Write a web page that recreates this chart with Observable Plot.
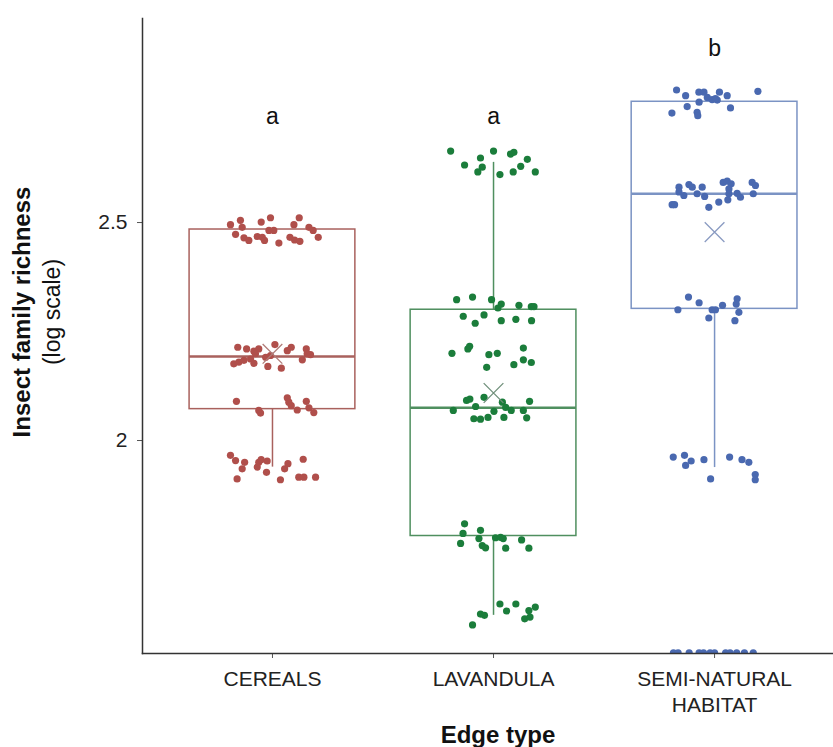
<!DOCTYPE html>
<html>
<head>
<meta charset="utf-8">
<script src="https://cdn.jsdelivr.net/npm/d3@7"></script>
<script src="https://cdn.jsdelivr.net/npm/@observablehq/plot@0.6"></script>
<style>
  html, body { margin: 0; padding: 0; background: #fff; }
  #chart svg { display: block; }
</style>
</head>
<body>
<div id="chart"></div>
<script>
// ---- Data ----
const categories = ["CEREALS", "LAVANDULA", "SEMI-NATURAL HABITAT"];
const tickLabels = ["CEREALS", "LAVANDULA", "SEMI-NATURAL\nHABITAT"];
const yTicks = [2, 2.5];

// box summaries (log scale values)
const q1 = [2.072, 1.781, 2.302];
const median = [2.193, 2.075, 2.566];
const q3 = [2.484, 2.300, 2.777];
const whiskerLow = [1.939, 1.599, 1.938];
const whiskerHigh = [2.484, 2.638, 2.777];
const means = [2.199, 2.109, 2.478];
const groupLetters = ["a", "a", "b"];
const letterValues = [2.743, 2.743, 2.898];

// jittered observations: [jitter (category units), value]
const cerealsPoints = [
  [-0.19,2.495],[-0.145,2.505],[-0.137,2.489],[-0.167,2.473],[-0.129,2.465],[-0.107,2.459],
  [-0.051,2.501],[-0.009,2.511],[-0.069,2.468],[-0.046,2.466],[-0.036,2.459],[-0.016,2.482],
  [0.006,2.482],[0.029,2.453],[0.097,2.495],[0.121,2.511],[0.079,2.466],[0.100,2.460],
  [0.124,2.457],[0.165,2.489],[0.184,2.482],[0.207,2.466],
  [-0.157,2.214],[-0.117,2.210],[-0.084,2.205],[-0.062,2.210],[-0.077,2.199],[-0.175,2.176],
  [-0.152,2.180],[-0.129,2.184],[-0.099,2.187],[-0.084,2.177],[-0.031,2.191],[-0.021,2.170],
  [0.011,2.220],[-0.009,2.195],[0.040,2.166],[0.067,2.206],[0.085,2.214],[0.153,2.210],
  [0.157,2.199],[0.172,2.197],[0.135,2.185],
  [-0.163,2.090],[-0.062,2.069],[-0.054,2.063],[0.067,2.098],[0.074,2.088],[0.085,2.080],
  [0.112,2.070],[0.153,2.090],[0.165,2.075],[0.187,2.064],
  [-0.19,1.966],[-0.167,1.954],[-0.126,1.950],[-0.137,1.935],[-0.160,1.912],[-0.062,1.950],
  [-0.051,1.956],[-0.024,1.953],[-0.069,1.939],[-0.027,1.927],[0.036,1.910],[0.055,1.935],
  [0.070,1.947],[0.139,1.957],[0.119,1.916],[0.142,1.916],[0.195,1.916]
];
const lavandulaPoints = [
  [-0.194,2.664],[-0.131,2.632],[-0.059,2.648],[-0.051,2.627],[-0.071,2.616],[0.0,2.664],
  [0.029,2.610],[0.077,2.657],[0.092,2.661],[0.089,2.616],[0.123,2.629],[0.153,2.645],[0.189,2.616],
  [-0.167,2.323],[-0.095,2.329],[-0.009,2.323],[0.035,2.313],[0.020,2.304],[0.115,2.310],
  [0.171,2.307],[0.183,2.307],[-0.137,2.285],[-0.083,2.269],[-0.043,2.288],[0.035,2.275],
  [0.101,2.278],[0.172,2.275],
  [-0.188,2.200],[-0.116,2.210],[-0.108,2.216],[-0.021,2.197],[0.017,2.200],[-0.031,2.168],
  [0.092,2.174],[0.135,2.212],[0.135,2.185],[0.171,2.179],
  [-0.182,2.069],[-0.122,2.092],[-0.107,2.095],[-0.081,2.078],[-0.043,2.099],[0.002,2.067],
  [0.040,2.088],[0.055,2.076],[0.080,2.069],[0.135,2.069],[0.163,2.090],[0.150,2.052],
  [-0.089,2.050],[-0.059,2.049],[-0.025,2.053],[0.047,2.053],
  [-0.131,1.809],[-0.138,1.787],[-0.149,1.764],[-0.059,1.794],[-0.066,1.775],[-0.051,1.759],
  [-0.036,1.754],[0.009,1.777],[0.032,1.778],[0.044,1.775],[0.055,1.753],[0.127,1.772],[0.160,1.753],
  [0.029,1.625],[0.101,1.625],[0.059,1.609],[-0.059,1.602],[-0.041,1.599],[-0.095,1.577],
  [0.160,1.610],[0.189,1.618],[0.141,1.591],[0.165,1.595]
];
const semiNaturalPoints = [
  [-0.172,2.804],[-0.131,2.791],[-0.071,2.799],[-0.048,2.799],[-0.033,2.787],[-0.011,2.782],
  [0.012,2.781],[0.022,2.799],[0.057,2.791],[0.196,2.801],[-0.070,2.776],[-0.124,2.766],
  [-0.193,2.751],[-0.079,2.753],[-0.076,2.745],[0.072,2.763],[0.004,2.784],
  [-0.161,2.581],[-0.116,2.587],[-0.101,2.581],[-0.056,2.581],[-0.161,2.570],[-0.139,2.562],
  [-0.079,2.566],[-0.045,2.560],[-0.192,2.541],[-0.181,2.541],[-0.026,2.535],[0.019,2.547],
  [0.039,2.592],[0.057,2.595],[0.075,2.589],[0.065,2.577],[0.060,2.552],[0.065,2.566],
  [0.102,2.567],[0.117,2.558],[0.170,2.592],[0.185,2.585],[0.175,2.566],
  [-0.118,2.329],[-0.070,2.316],[-0.166,2.300],[-0.011,2.300],[0.004,2.300],[0.036,2.310],
  [-0.026,2.281],[0.102,2.325],[0.098,2.313],[0.110,2.294],[0.092,2.275],
  [-0.187,1.962],[-0.136,1.966],[-0.131,1.943],[-0.106,1.953],[-0.048,1.956],[-0.018,1.912],
  [0.068,1.962],[0.124,1.956],[0.155,1.950],[0.184,1.922],[0.184,1.910],
  [-0.186,1.513],[-0.165,1.513],[-0.115,1.513],[-0.070,1.513],[-0.050,1.513],[-0.020,1.513],
  [0.0,1.513],[0.050,1.513],[0.070,1.513],[0.100,1.513],[0.135,1.513],[0.175,1.513]
];

// ---- Build table ----
const pointSets = [cerealsPoints, lavandulaPoints, semiNaturalPoints];
const points = pointSets.flatMap((pts, g) => pts.map(([j, v]) => ({g, x: g + j, y: v})));
const idx = categories.map((_, i) => i);

const dotColors = ["#b04f4b", "#1b7d3b", "#4a69b0"];
const boxColors = ["#a9615d", "#4f8f5f", "#7b93c4"];
const meanColors = ["#b07c78", "#6f8f7a", "#8a9bc2"];
const half = 0.375;
const font = "Liberation Sans, Arial, Helvetica, sans-serif";

const chart = Plot.plot({
  width: 833,
  height: 747,
  marginLeft: 142,
  marginRight: 0,
  marginTop: 18,
  marginBottom: 94,
  style: {fontFamily: font, background: "#fff", color: "#222"},
  x: {type: "linear", domain: [-0.588, 2.538]},
  y: {domain: [1.5115, 2.968]},
  marks: [
    // boxes
    Plot.rect(idx, {x1: i => i - half, x2: i => i + half, y1: i => q1[i], y2: i => q3[i],
      fill: "none", stroke: i => boxColors[i], strokeWidth: 1.5}),
    Plot.ruleX(idx, {x: i => i, y1: i => q3[i], y2: i => whiskerHigh[i], stroke: i => boxColors[i], strokeWidth: 1.5}),
    Plot.ruleX(idx, {x: i => i, y1: i => q1[i], y2: i => whiskerLow[i], stroke: i => boxColors[i], strokeWidth: 1.5}),
    Plot.ruleY(idx, {x1: i => i - half, x2: i => i + half, y: i => median[i], stroke: i => boxColors[i], strokeWidth: 2.5}),
    // observations
    Plot.dot(points, {x: "x", y: "y", r: 3.6, fill: d => dotColors[d.g], stroke: "none", clip: true}),
    // means
    Plot.dot(idx, {x: i => i, y: i => means[i], symbol: "times", r: 9, stroke: i => meanColors[i], strokeWidth: 1.3}),
    // group letters
    Plot.text(idx, {x: i => i, y: i => letterValues[i], text: i => groupLetters[i], fontSize: 23, fill: "#111"}),
    // axes
    Plot.axisY({ticks: yTicks, tickFormat: d => String(d), tickSize: 5, tickPadding: 10, fontSize: 21, label: null, stroke: "#555"}),
    Plot.axisX({ticks: idx, tickFormat: i => tickLabels[i], tickSize: 5, tickPadding: 10, fontSize: 21, lineHeight: 1.2, label: null, stroke: "#555"}),
    Plot.frame({anchor: "left", stroke: "#333", strokeWidth: 1.5}),
    Plot.frame({anchor: "bottom", stroke: "#333", strokeWidth: 1.5}),
    // axis titles
    Plot.text(["Insect family richness"], {frameAnchor: "left", text: d => d, rotate: -90, textAnchor: "middle", lineAnchor: "middle", dx: -120, dy: -24, fontSize: 24, fontWeight: "bold", fill: "#111"}),
    Plot.text(["(log scale)"], {frameAnchor: "left", text: d => d, rotate: -90, textAnchor: "middle", lineAnchor: "middle", dx: -90, dy: -24, fontSize: 23, fill: "#111"}),
    Plot.text(["Edge type"], {frameAnchor: "bottom", text: d => d, lineAnchor: "middle", dx: 10, dy: 82, fontSize: 24, fontWeight: "bold", fill: "#111"})
  ]
});
document.getElementById("chart").appendChild(chart);
</script>
</body>
</html>
